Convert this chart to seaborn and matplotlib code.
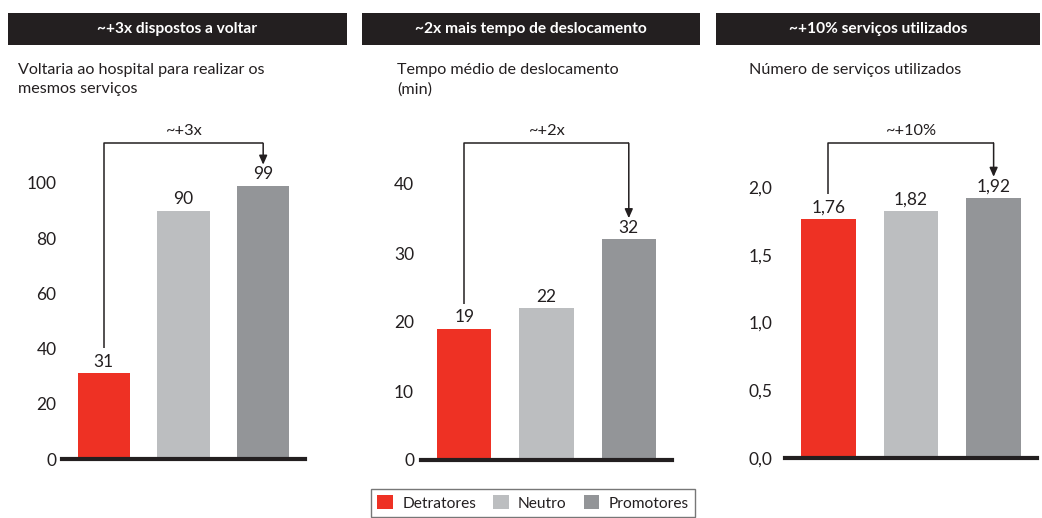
import matplotlib
matplotlib.use("Agg")
import matplotlib.pyplot as plt
from matplotlib.patches import Rectangle, Patch
import seaborn as sns
import pandas as pd

# ---------------- data ----------------
categories = ["Detratores", "Neutro", "Promotores"]
colors = ["#EE3124", "#BCBEC0", "#939598"]

headers = ["~+3x dispostos a voltar", "~2x mais tempo de deslocamento", "~+10% serviços utilizados"]
subtitles = ["Voltaria ao hospital para realizar os\nmesmos serviços",
             "Tempo médio de deslocamento\n(min)",
             "Número de serviços utilizados"]

values_voltaria = [31, 90, 99]
values_tempo = [19, 22, 32]
values_servicos = [1.76, 1.82, 1.92]

labels_voltaria = ["31", "90", "99"]
labels_tempo = ["19", "22", "32"]
labels_servicos = ["1,76", "1,82", "1,92"]

ticks_voltaria = [0, 20, 40, 60, 80, 100]
ticks_tempo = [0, 10, 20, 30, 40]
ticks_servicos = [0.0, 0.5, 1.0, 1.5, 2.0]
ticklabels_servicos = ["0,0", "0,5", "1,0", "1,5", "2,0"]

bracket_labels = ["~+3x", "~+2x", "~+10%"]

# ---------------- style ----------------
sns.set_theme(style="white")
plt.rcParams["font.family"] = ["Lato", "DejaVu Sans"]
TXT = "#231F20"

W, H = 1042, 518
fig = plt.figure(figsize=(W / 100, H / 100), dpi=100)


def fig_axes(left, right, top, bottom):
    return fig.add_axes([left / W, 1 - bottom / H, (right - left) / W, (bottom - top) / H])


panels = [
    dict(box=(8, 347), sub_x=18, ax=(62, 305, 115, 459), ymax=124.6, vals=values_voltaria,
         labs=labels_voltaria, ticks=ticks_voltaria, tlabs=[str(t) for t in ticks_voltaria], pad=4),
    dict(box=(362, 700), sub_x=397, ax=(421, 672, 115, 460), ymax=50.0, vals=values_tempo,
         labs=labels_tempo, ticks=ticks_tempo, tlabs=[str(t) for t in ticks_tempo], pad=5),
    dict(box=(716, 1040), sub_x=749, ax=(785, 1037, 115, 458), ymax=2.531, vals=values_servicos,
         labs=labels_servicos, ticks=ticks_servicos, tlabs=ticklabels_servicos, pad=9),
]

for i, p in enumerate(panels):
    # header box
    x0, x1 = p["box"]
    fig.patches.append(Rectangle((x0 / W, 1 - 45 / H), (x1 - x0) / W, 32 / H,
                                 transform=fig.transFigure, facecolor=TXT, edgecolor="none"))
    fig.text((x0 + x1) / 2 / W, 1 - 29 / H, headers[i], color="white", fontsize=11.2,
             fontweight="bold", ha="center", va="center")
    # subtitle
    fig.text(p["sub_x"] / W, 1 - 63 / H, subtitles[i], color=TXT, fontsize=11.6,
             ha="left", va="top", linespacing=1.45)

    left, right, top, bottom = p["ax"]
    ax = fig_axes(left, right, top, bottom)
    df = pd.DataFrame({"cat": categories, "val": p["vals"]})
    sns.barplot(data=df, x="cat", y="val", hue="cat", palette=colors, ax=ax,
                width=0.66, legend=False, saturation=1, edgecolor="none")
    ax.set_xlim(-0.525, 2.525)
    ax.set_ylim(0, p["ymax"])
    ax.set_xlabel("")
    ax.set_ylabel("")
    ax.set_xticks([])
    ax.set_yticks(p["ticks"])
    ax.set_yticklabels(p["tlabs"])
    ax.tick_params(axis="y", length=0, pad=p["pad"], labelsize=12.5, labelcolor=TXT)
    for s in ["top", "right", "left"]:
        ax.spines[s].set_visible(False)
    ax.spines["bottom"].set_color(TXT)
    ax.spines["bottom"].set_linewidth(3)
    ax.patch.set_alpha(0)

    # value labels
    for j, (v, lab) in enumerate(zip(p["vals"], p["labs"])):
        ax.annotate(lab, (j, v), xytext=(0, 2.5), textcoords="offset points",
                    ha="center", va="bottom", fontsize=12.5, color=TXT)

    # bracket
    height_px = bottom - top
    ppu = height_px / p["ymax"]
    y_top = 0.918 * p["ymax"]
    y_left = p["vals"][0] + 25 / ppu
    y_tip = p["vals"][2] + 21 / ppu
    ax.plot([0, 0, 2], [y_left, y_top, y_top], color=TXT, lw=1.1, clip_on=False,
            solid_capstyle="butt")
    ax.annotate("", xy=(2, y_tip), xytext=(2, y_top),
                arrowprops=dict(arrowstyle="-|>,head_length=0.45,head_width=0.2",
                                color=TXT, lw=1.1, shrinkA=0, shrinkB=0), annotation_clip=False)
    ax.text(1, 0.953 * p["ymax"], bracket_labels[i], ha="center", va="center",
            fontsize=11.8, color=TXT)

# legend
handles = [Patch(facecolor=c, edgecolor="none") for c in colors]
leg = fig.legend(handles, categories, loc="upper center", bbox_to_anchor=(533 / W, 1 - 489 / H),
                 ncol=3, frameon=True, fancybox=False, edgecolor="#555555", fontsize=11.2,
                 handlelength=1.0, handleheight=1.0, columnspacing=1.1, handletextpad=0.6,
                 borderpad=0.4, borderaxespad=0)
leg.get_frame().set_linewidth(1.0)
for t in leg.get_texts():
    t.set_color(TXT)

fig.savefig("out.png", dpi=100)
